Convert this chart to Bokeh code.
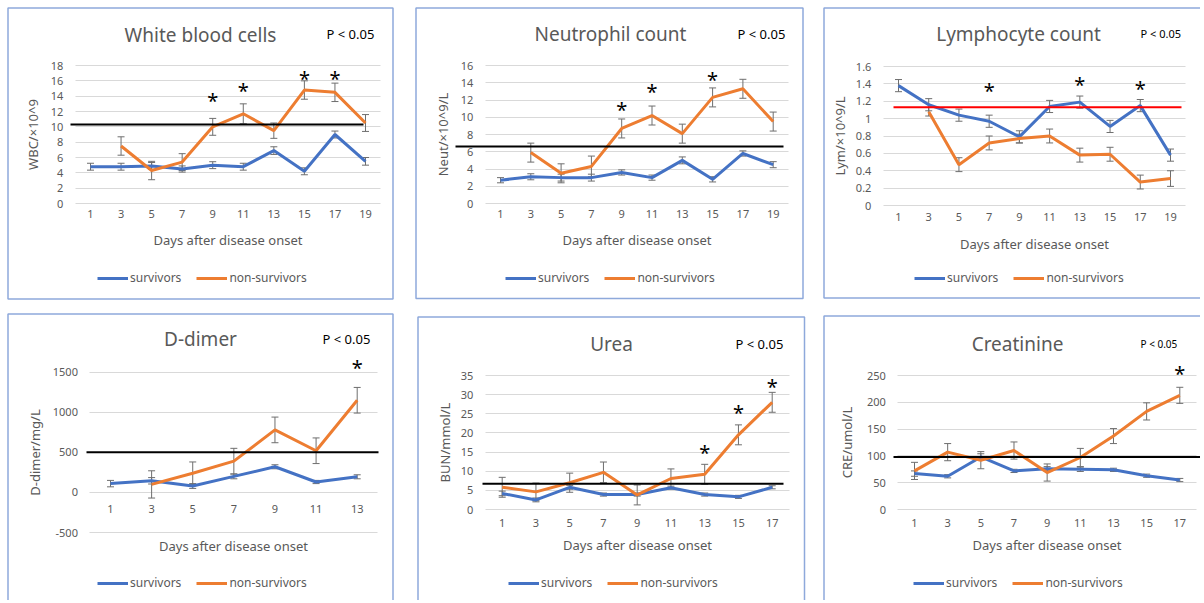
from bokeh.plotting import figure
from bokeh.layouts import column, row
from bokeh.models import (Range1d, FixedTicker, Whisker, TeeHead, ColumnDataSource, Label,
                          LabelSet, BoxAnnotation, Arrow, Legend, LegendItem, LinearAxis)
from bokeh.core.properties import value
from bokeh.embed import file_html
from bokeh.resources import INLINE

# ---------------- data ----------------
days_1_19 = [1, 3, 5, 7, 9, 11, 13, 15, 17, 19]
days_3_19 = [3, 5, 7, 9, 11, 13, 15, 17, 19]
days_1_13 = [1, 3, 5, 7, 9, 11, 13]
days_3_13 = [3, 5, 7, 9, 11, 13]
days_1_17 = [1, 3, 5, 7, 9, 11, 13, 15, 17]

wbc_surv = [4.8, 4.8, 4.9, 4.5, 5.0, 4.8, 6.9, 4.2, 9.0, 5.5]
wbc_surv_err = [0.45, 0.45, 0.45, 0.4, 0.45, 0.45, 0.5, 0.45, 0.45, 0.5]
wbc_non = [7.5, 4.3, 5.4, 10.0, 11.7, 9.5, 14.8, 14.5, 10.5]
wbc_non_err = [1.2, 1.2, 1.1, 1.1, 1.3, 1.0, 1.2, 1.2, 1.1]
wbc_star_days = [9, 11, 15, 17]
wbc_star_y = [13.5, 14.7, 16.3, 16.3]

neut_surv = [2.7, 3.1, 3.0, 3.0, 3.6, 3.0, 5.0, 2.8, 5.8, 4.5]
neut_surv_err = [0.3, 0.35, 0.4, 0.4, 0.3, 0.3, 0.4, 0.3, 0.3, 0.35]
neut_non = [5.9, 3.5, 4.3, 8.7, 10.2, 8.1, 12.3, 13.3, 9.5]
neut_non_err = [1.1, 1.1, 1.2, 1.1, 1.1, 1.1, 1.1, 1.1, 1.1]
neut_star_days = [9, 11, 15]
neut_star_y = [10.9, 13.0, 14.4]

lym_surv = [1.38, 1.16, 1.04, 0.97, 0.79, 1.14, 1.19, 0.91, 1.15, 0.58]
lym_surv_err = [0.07, 0.07, 0.07, 0.07, 0.07, 0.07, 0.07, 0.07, 0.07, 0.07]
lym_non = [1.08, 0.47, 0.72, 0.77, 0.80, 0.58, 0.59, 0.27, 0.31]
lym_non_err = [0.05, 0.08, 0.08, 0.05, 0.08, 0.08, 0.08, 0.08, 0.09]
lym_star_days = [7, 13, 17]
lym_star_y = [1.32, 1.39, 1.35]

dd_surv = [110, 145, 80, 200, 320, 130, 195]
dd_surv_err = [40, 40, 30, 30, 25, 20, 25]
dd_non = [100, 240, 390, 780, 520, 1150]
dd_non_err = [170, 140, 160, 160, 160, 160]
dd_star_days = [13]
dd_star_y = [1562]

urea_surv = [4.2, 2.5, 5.8, 3.9, 3.9, 5.7, 3.9, 3.3, 5.8]
urea_surv_err = [0.6, 0.5, 0.5, 0.4, 0.4, 0.4, 0.4, 0.4, 0.4]
urea_non = [5.8, 4.6, 7.0, 9.7, 3.8, 8.1, 9.2, 19.5, 28.0]
urea_non_err = [2.6, 2.3, 2.5, 2.7, 2.6, 2.5, 2.6, 2.6, 2.6]
urea_star_days = [13, 15, 17]
urea_star_y = [15.0, 25.3, 32.1]

cre_surv = [67, 62, 98, 72, 76, 75, 74, 63, 55]
cre_surv_err = [5, 3, 6, 3, 4, 4, 3, 3, 3]
cre_non = [72, 107, 92, 110, 69, 97, 137, 183, 213]
cre_non_err = [16, 16, 16, 16, 16, 17, 14, 16, 15]
cre_star_days = [17]
cre_star_y = [253]

titles = ["White blood cells", "Neutrophil count", "Lymphocyte count",
          "D-dimer", "Urea", "Creatinine"]
y_titles = ["WBC/×10^9", "Neut/×10^9/L", "Lym/×10^9/L",
            "D-dimer/mg/L", "BUN/mmol/L", "CRE/umol/L"]
x_title = "Days after disease onset"
p_text = "P < 0.05"
series_names = ["survivors", "non-survivors"]
ref_values = [10.3, 6.6, 1.13, 500, 6.7, 98]

wbc_ticks = [0, 2, 4, 6, 8, 10, 12, 14, 16, 18]
wbc_tick_labels = ["0", "2", "4", "6", "8", "10", "12", "14", "16", "18"]
neut_ticks = [0, 2, 4, 6, 8, 10, 12, 14, 16]
neut_tick_labels = ["0", "2", "4", "6", "8", "10", "12", "14", "16"]
lym_ticks = [0, 0.2, 0.4, 0.6, 0.8, 1, 1.2, 1.4, 1.6]
lym_tick_labels = ["0", "0.2", "0.4", "0.6", "0.8", "1", "1.2", "1.4", "1.6"]
dd_ticks = [-500, 0, 500, 1000, 1500]
dd_tick_labels = ["-500", "0", "500", "1000", "1500"]
urea_ticks = [0, 5, 10, 15, 20, 25, 30, 35]
urea_tick_labels = ["0", "5", "10", "15", "20", "25", "30", "35"]
cre_ticks = [0, 50, 100, 150, 200, 250]
cre_tick_labels = ["0", "50", "100", "150", "200", "250"]

# ---------------- style ----------------
FONT = "Noto Sans"
GRAY = "#595959"
BLUE = "#4472C4"
ORANGE = "#ED7D31"
BORDER = "#8EA9DB"
GRID = "#D9D9D9"
ERR = "#6E6E6E"
LW = 3

panels = [
    dict(i=0, canvas=(0, 0, 405, 307), ycal=((0, 203), (18, 65)),
         xcal=((1, 90), (19, 365)), band=(0, 20), title_pos=(200, 34), p_pos=(326, 33), p_size="13px",
         ref_px=(70, 363), ref_color="black", border=(7.5, 7.5, 392.5, 298.5), legend=(97, 279), y_als=6,
         x_so=6, x_als=10,
         xticks=days_1_19, sd=days_1_19, sv=wbc_surv, se=wbc_surv_err, nd=days_3_19, nv=wbc_non, ne=wbc_non_err,
         std=wbc_star_days, sty=wbc_star_y, yt=wbc_ticks, yl=wbc_tick_labels),
    dict(i=1, canvas=(405, 0, 409, 307), ycal=((0, 203), (16, 65)),
         xcal=((1, 500), (19, 772.7)), band=(0, 20), title_pos=(610, 33), p_pos=(737, 33), p_size="13px",
         ref_px=(455, 783), ref_color="black", border=(415.5, 7.5, 802.5, 298), legend=(505, 279), y_als=6,
         x_so=6, x_als=10,
         xticks=days_1_19, sd=days_1_19, sv=neut_surv, se=neut_surv_err, nd=days_3_19, nv=neut_non, ne=neut_non_err,
         std=neut_star_days, sty=neut_star_y, yt=neut_ticks, yl=neut_tick_labels),
    dict(i=2, canvas=(814, 0, 386, 307), ycal=((0, 205), (1.6, 66)),
         xcal=((1, 898), (19, 1170)), band=(0, 20), title_pos=(1018, 33), p_pos=(1140, 33), p_size="11px",
         ref_px=(893, 1181), ref_color="#FF0000", border=(823.5, 7.5, 1215, 297.5), legend=(914, 279), y_als=4,
         x_so=7, x_als=11,
         xticks=days_1_19, sd=days_1_19, sv=lym_surv, se=lym_surv_err, nd=days_3_19, nv=lym_non, ne=lym_non_err,
         std=lym_star_days, sty=lym_star_y, yt=lym_ticks, yl=lym_tick_labels),
    dict(i=3, canvas=(0, 307, 405, 293), ycal=((-500, 532), (1500, 371.7)),
         xcal=((1, 110), (13, 356.7)), band=(0, 14), title_pos=(200, 338), p_pos=(322, 338), p_size="13px",
         ref_px=(86, 378), ref_color="black", border=(7.5, 313.5, 392.5, 640), legend=(97, 584), y_als=5,
         x_so=13, x_als=4,
         xticks=days_1_13, sd=days_1_13, sv=dd_surv, se=dd_surv_err, nd=days_3_13, nv=dd_non, ne=dd_non_err,
         std=dd_star_days, sty=dd_star_y, yt=dd_ticks, yl=dd_tick_labels),
    dict(i=4, canvas=(405, 307, 409, 293), ycal=((0, 509), (35, 375)),
         xcal=((1, 501.7), (17, 771.7)), band=(0, 18), title_pos=(611, 343), p_pos=(735, 343), p_size="13px",
         ref_px=(482, 783), ref_color="black", border=(417.5, 316.5, 804, 640), legend=(508, 584), y_als=4,
         x_so=9, x_als=6,
         xticks=days_1_17, sd=days_1_17, sv=urea_surv, se=urea_surv_err, nd=days_1_17, nv=urea_non, ne=urea_non_err,
         std=urea_star_days, sty=urea_star_y, yt=urea_ticks, yl=urea_tick_labels),
    dict(i=5, canvas=(814, 307, 386, 293), ycal=((0, 509), (250, 375)),
         xcal=((1, 914), (17, 1179.3)), band=(0, 18), title_pos=(1017, 343), p_pos=(1140, 343), p_size="10px",
         ref_px=(893, 1200), ref_color="black", border=(823.5, 315.5, 1215, 640), legend=(913, 584), y_als=8,
         x_so=9, x_als=6,
         xticks=days_1_17, sd=days_1_17, sv=cre_surv, se=cre_surv_err, nd=days_1_17, nv=cre_non, ne=cre_non_err,
         std=cre_star_days, sty=cre_star_y, yt=cre_ticks, yl=cre_tick_labels),
]


def style_axis(ax):
    ax.axis_line_color = None
    ax.major_tick_line_color = None
    ax.minor_tick_line_color = None
    ax.major_tick_out = 0
    ax.major_tick_in = 0
    ax.minor_tick_out = 0
    ax.minor_tick_in = 0
    ax.major_label_text_font = FONT
    ax.major_label_text_font_size = "11px"
    ax.major_label_text_color = GRAY
    ax.axis_label_text_font = FONT
    ax.axis_label_text_font_size = "13px"
    ax.axis_label_text_font_style = "normal"
    ax.axis_label_text_color = GRAY


def build(cfg):
    i = cfg["i"]
    ox, oy, W, H = cfg["canvas"]
    (va, pya), (vb, pyb) = cfg["ycal"]
    sy = (pya - pyb) / (vb - va)
    (da, pxa), (db, pxb) = cfg["xcal"]
    sx = (pxb - pxa) / (db - da)

    def X(px):
        return da + (px - pxa) / sx

    def Y(py):
        return va + (pya - py) / sy

    p = figure(width=W, height=H, x_range=Range1d(X(ox), X(ox + W)), y_range=Range1d(Y(oy + H), Y(oy)),
               output_backend="svg", toolbar_location=None, tools="",
               min_border=0, min_border_left=0, min_border_right=0, min_border_top=0, min_border_bottom=0)
    p.outline_line_color = None
    p.background_fill_color = "white"
    p.border_fill_color = "white"
    band = cfg["band"]

    # axes (placed inside the frame at fixed data locations)
    yax = p.yaxis[0]
    style_axis(yax)
    yt = FixedTicker(ticks=cfg["yt"])
    yax.ticker = yt
    yax.major_label_overrides = dict(zip(cfg["yt"], cfg["yl"]))
    yax.major_label_standoff = 12
    yax.axis_label = y_titles[i]
    yax.axis_label_standoff = cfg["y_als"]
    yax.fixed_location = band[0]
    yax.bounds = (cfg["yt"][0], cfg["yt"][-1])

    p.ygrid.ticker = yt
    p.ygrid.grid_line_color = GRID
    p.ygrid.grid_line_width = 1
    p.xgrid.visible = False
    try:
        p.ygrid.cross_bounds = band
    except Exception:
        p.ygrid.visible = False
        p.segment(x0=[band[0]] * len(cfg["yt"]), x1=[band[1]] * len(cfg["yt"]), y0=cfg["yt"], y1=cfg["yt"],
                  line_color=GRID, line_width=1)

    xax = p.xaxis[0]
    style_axis(xax)
    xax.ticker = FixedTicker(ticks=cfg["xticks"])
    xax.major_label_standoff = cfg["x_so"]
    xax.fixed_location = 0
    xax.bounds = band
    if cfg["yt"][0] < 0:
        xax.axis_label = None
        extra = LinearAxis(ticker=FixedTicker(ticks=[]), axis_label=x_title)
        style_axis(extra)
        extra.major_label_standoff = 0
        extra.axis_label_standoff = cfg["x_als"]
        extra.fixed_location = cfg["yt"][0]
        extra.bounds = band
        p.add_layout(extra, "below")
    else:
        xax.axis_label = x_title
        xax.axis_label_standoff = cfg["x_als"]

    # series
    r_s = p.line(cfg["sd"], cfg["sv"], line_color=BLUE, line_width=LW)
    r_n = p.line(cfg["nd"], cfg["nv"], line_color=ORANGE, line_width=LW)
    for d, v, e in ((cfg["sd"], cfg["sv"], cfg["se"]), (cfg["nd"], cfg["nv"], cfg["ne"])):
        src = ColumnDataSource(dict(x=d, upper=[a + b for a, b in zip(v, e)],
                                    lower=[a - b for a, b in zip(v, e)]))
        w = Whisker(source=src, base="x", upper="upper", lower="lower", dimension="height",
                    line_color=ERR, line_width=1,
                    upper_head=TeeHead(size=7, line_color=ERR, line_width=1),
                    lower_head=TeeHead(size=7, line_color=ERR, line_width=1))
        p.add_layout(w)

    # reference line
    rv = ref_values[i]
    a, b = cfg["ref_px"]
    p.add_layout(Arrow(x_start=X(a), y_start=rv, x_end=X(b), y_end=rv, start=None, end=None,
                       line_color=cfg["ref_color"], line_width=2))

    # significance stars
    ssrc = ColumnDataSource(dict(x=cfg["std"], y=cfg["sty"], t=["*"] * len(cfg["std"])))
    p.add_layout(LabelSet(x="x", y="y", text="t", source=ssrc, text_font=value(FONT),
                          text_font_size=value("20px"), text_color="black",
                          text_align="center", text_baseline="middle"))

    # title and p-value
    tx, ty = cfg["title_pos"]
    p.add_layout(Label(x=X(tx), y=Y(ty), text=titles[i], text_font=FONT, text_font_size="19px",
                       text_color=GRAY, text_align="center", text_baseline="middle"))
    px_, py_ = cfg["p_pos"]
    p.add_layout(Label(x=X(px_), y=Y(py_), text=p_text, text_font=FONT, text_font_size=cfg["p_size"],
                       text_color="black", text_align="left", text_baseline="middle"))

    # legend
    lx, ly = cfg["legend"]
    leg = Legend(items=[LegendItem(label=series_names[0], renderers=[r_s]),
                        LegendItem(label=series_names[1], renderers=[r_n])],
                 orientation="horizontal", location=(lx - ox, (oy + H) - (ly + 7)),
                 glyph_width=31, glyph_height=14, label_height=14, label_standoff=2, spacing=15,
                 padding=0, margin=0, border_line_color=None, background_fill_alpha=0,
                 label_text_font=FONT, label_text_font_size="12px", label_text_color=GRAY)
    p.add_layout(leg)

    # panel border
    bl, bt, br, bb = cfg["border"]
    p.add_layout(BoxAnnotation(left=X(bl), right=X(br), top=Y(bt), bottom=Y(bb),
                               fill_color=None, fill_alpha=0, line_color=BORDER, line_width=1.5,
                               line_alpha=1))
    return p


figs = [build(c) for c in panels]
layout = column(row(figs[0], figs[1], figs[2]), row(figs[3], figs[4], figs[5]))
open("out.html", "w").write(file_html(layout, INLINE))
